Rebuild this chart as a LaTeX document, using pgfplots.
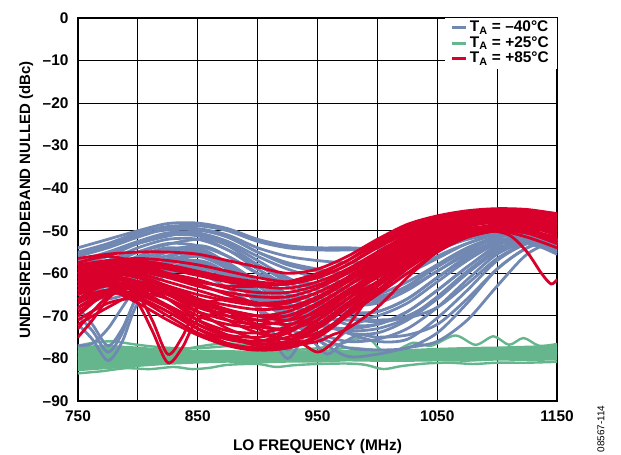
\documentclass[border=0pt]{standalone}
\usepackage{fontspec}
\setmainfont{Liberation Sans}
\usepackage{pgfplots}
\pgfplotsset{compat=1.18}

\definecolor{tblue}{RGB}{112,136,178}
\definecolor{tgreen}{RGB}{102,182,141}
\definecolor{tred}{RGB}{218,0,44}
\newcommand{\lbl}{\fontsize{15.5}{18}\selectfont\bfseries}

\pgfplotsset{
  bl/.style={tblue, line width=2.8bp, smooth, line cap=round, forget plot},
  rd/.style={tred, line width=2.8bp, smooth, line cap=round, forget plot},
  gr/.style={tgreen, line width=2.4bp, smooth, line cap=round, forget plot},
}

\begin{document}
\begin{tikzpicture}
\path[use as bounding box] (-78bp,-54bp) rectangle (543bp,401bp);
\begin{axis}[
  at={(0,0)}, anchor=south west,
  scale only axis, width=479bp, height=383bp,
  xmin=750, xmax=1150, ymin=-90, ymax=0,
  xtick={750,800,...,1150},
  xticklabels={750,,850,,950,,1050,,1150},
  ytick={-90,-80,...,0},
  yticklabels={–90,–80,–70,–60,–50,–40,–30,–20,–10,0},
  major tick length=0pt,
  grid=major,
  grid style={black, line width=1bp},
  axis line style={black, line width=1.6bp},
  tick label style={font=\lbl},
  yticklabel style={xshift=-6bp},
  xticklabel style={yshift=-6bp},
  xlabel={LO FREQUENCY (MHz)},
  ylabel={UNDESIRED SIDEBAND NULLED (dBc)},
  every axis x label/.style={at={(axis description cs:0.5,-0.120)}, anchor=center, font=\lbl},
  every axis y label/.style={at={(axis description cs:-0.108,0.525)}, rotate=90, anchor=center,
    font=\fontsize{15}{18}\selectfont\bfseries},
  legend style={at={(1,1)}, anchor=north east, draw=none, fill=white,
    font=\lbl, inner xsep=6bp, inner ysep=2bp,
    nodes={inner ysep=1.5bp, text height=10bp, text depth=2.5bp}},
  legend cell align=left,
  legend image code/.code={\draw[#1] (0bp,0bp) -- (14bp,0bp);},
]

% ---- T_A = +25 C (green band)
\addplot[draw=none, fill=tgreen, forget plot] coordinates {
(750,-77) (775,-76.8) (800,-77.2) (825,-77.8) (850,-78) (875,-78) (900,-78.3)
(925,-78.2) (950,-78) (975,-78) (1000,-78) (1025,-77.8) (1050,-77.5) (1075,-77.3)
(1100,-77.2) (1125,-77) (1150,-76.8)
(1150,-80.5) (1125,-80.6) (1100,-80.5) (1075,-80.8) (1050,-80.7) (1025,-80.8)
(1000,-80.8) (975,-80.7) (950,-81) (925,-81) (900,-81.2) (875,-81) (850,-81.2)
(825,-81.5) (800,-82) (775,-82.5) (750,-83) (750,-77)};
\addplot[gr] coordinates {(750,-77) (765,-76.2) (780,-76) (800,-76.8) (825,-77.5) (850,-77.6) (870,-77.2) (890,-76.8) (910,-77.6) (925,-78) (950,-77.6) (970,-76.5) (985,-75.3) (995,-75.8) (1003,-78) (1015,-78.2) (1030,-76.3) (1045,-77) (1065,-74.6) (1082,-76.8) (1097,-74.8) (1110,-76.8) (1122,-75.2) (1135,-77) (1150,-76.6)};
\addplot[gr] coordinates {(750,-83.5) (770,-83) (790,-82.3) (810,-82.5) (830,-82) (845,-82.5) (860,-82.2) (875,-81.5) (900,-81.3) (915,-82) (930,-81.6) (950,-81.3) (975,-81.2) (990,-81.5) (1005,-82.5) (1020,-81.8) (1040,-81.2) (1060,-81) (1080,-81.3) (1100,-81) (1125,-81) (1150,-80.8)};
\addplot[gr] coordinates {(750,-80) (775,-79.5) (800,-79.8) (825,-79.5) (850,-80) (875,-79.5) (900,-79.8) (925,-80) (950,-79.5) (975,-79.5) (1000,-79.8) (1025,-79.3) (1050,-79) (1075,-79.2) (1100,-78.8) (1125,-79) (1150,-78.8)};
\addplot[gr] coordinates {(750,-78.5) (800,-78.8) (830,-78.2) (860,-76.8) (880,-76.5) (900,-77.5) (925,-78.2) (950,-78.5) (975,-77.5) (1000,-78) (1050,-78.2) (1100,-78) (1150,-77.5)};

% ---- T_A = -40 C (blue)
\addplot[bl] coordinates {(750,-54) (775,-52) (800,-50) (825,-48.3) (850,-48.2) (875,-49.5) (900,-52) (925,-53.5) (950,-54) (975,-54) (1000,-54.2) (1025,-53.5) (1050,-52) (1075,-50.5) (1100,-50) (1125,-51) (1150,-53)};
\addplot[bl] coordinates {(750,-55) (775,-53) (800,-50.5) (825,-49) (850,-48.8) (875,-50) (900,-52.5) (925,-54) (950,-54.5) (975,-54.5) (1000,-54) (1025,-52.5) (1050,-51) (1075,-50.2) (1100,-50.3) (1125,-51.5) (1150,-54)};
\addplot[bl] coordinates {(750,-55.5) (775,-53.5) (800,-51) (825,-49.8) (850,-49.8) (875,-51.5) (900,-55) (925,-57.5) (950,-59) (975,-60) (1000,-59) (1025,-56.5) (1050,-53.5) (1075,-51.5) (1100,-50.7) (1125,-52) (1150,-54.5)};
\addplot[bl] coordinates {(750,-56) (775,-54) (800,-51.5) (825,-49.5) (850,-49.5) (875,-51) (900,-54) (925,-56) (950,-57) (975,-57.5) (1000,-57) (1025,-55) (1050,-52.5) (1075,-51) (1100,-50.5) (1125,-52) (1150,-55)};
\addplot[bl] coordinates {(750,-57) (775,-55) (800,-52.5) (825,-50.5) (850,-50.5) (875,-52.5) (900,-56) (925,-59) (950,-61) (975,-62) (1000,-61) (1025,-58) (1050,-54.5) (1075,-52) (1100,-51) (1125,-52.5) (1150,-55.5)};
\addplot[bl] coordinates {(750,-57.5) (775,-55.5) (800,-52.8) (825,-51) (850,-51.2) (875,-53.5) (900,-58) (925,-62) (950,-65.5) (975,-67.5) (1000,-67) (1025,-64) (1050,-59.5) (1075,-55.5) (1100,-52.5) (1125,-52.5) (1150,-54.5)};
\addplot[bl] coordinates {(750,-58) (775,-56) (800,-53) (825,-51) (850,-51) (875,-53) (900,-57) (925,-61) (950,-64) (975,-66) (1000,-65) (1025,-62) (1050,-58) (1075,-54.5) (1100,-52) (1125,-52.5) (1150,-55)};
\addplot[bl] coordinates {(750,-59) (775,-57) (800,-54) (825,-52) (850,-52) (875,-54.5) (900,-59) (925,-63) (950,-67) (975,-69) (1000,-69) (1025,-66) (1050,-61) (1075,-56.5) (1100,-53) (1125,-53) (1150,-55)};
\addplot[bl] coordinates {(750,-60) (775,-58) (800,-55) (825,-53) (850,-53.5) (875,-56) (900,-60) (925,-65) (950,-69) (975,-72) (1000,-72) (1025,-69) (1050,-64) (1075,-58.5) (1100,-54) (1125,-53) (1150,-54)};
\addplot[bl] coordinates {(750,-61) (775,-59) (800,-56) (825,-54) (850,-55) (875,-58) (900,-62) (925,-67) (950,-71) (975,-74) (1000,-74) (1025,-71) (1050,-66) (1075,-60) (1100,-55) (1125,-53) (1150,-53)};
\addplot[bl] coordinates {(750,-62) (775,-64) (800,-62) (825,-56.5) (850,-54.5) (875,-57.5) (900,-62) (925,-66) (950,-68) (975,-68) (1000,-66.5) (1025,-63) (1050,-58.5) (1075,-54.5) (1100,-51.5) (1125,-51) (1150,-52.5)};
\addplot[bl] coordinates {(750,-64) (775,-66) (800,-63.5) (825,-58) (850,-56) (875,-59) (900,-64) (925,-69) (950,-72) (975,-73) (1000,-72) (1025,-69) (1050,-64) (1075,-58.5) (1100,-53.5) (1125,-51.5) (1150,-52)};
\addplot[bl] coordinates {(750,-70) (762,-73.5) (775,-78.5) (787,-74) (800,-65) (825,-57.5) (850,-55.5) (875,-58.5) (900,-63) (925,-67) (950,-70) (975,-71) (1000,-70) (1025,-67) (1050,-62) (1075,-57) (1100,-53) (1125,-51.5) (1150,-53)};
\addplot[bl] coordinates {(750,-72) (762,-75.5) (775,-80.5) (787,-76) (800,-67) (825,-60) (850,-58.5) (875,-61) (900,-65.5) (925,-70) (950,-74) (975,-76) (1000,-75.5) (1025,-73) (1050,-68) (1075,-61.5) (1100,-55.5) (1125,-52.5) (1150,-52)};
\addplot[bl] coordinates {(750,-68) (762,-72) (775,-77) (787,-73) (800,-65.5) (825,-59) (850,-57.5) (875,-60) (900,-64.5) (925,-68.5) (950,-72) (975,-73.5) (1000,-73) (1025,-70.5) (1050,-65.5) (1075,-59.5) (1100,-54.5) (1125,-52) (1150,-52.5)};
\addplot[bl] coordinates {(750,-77) (762,-76.5) (775,-73) (787,-68) (800,-63) (825,-58) (850,-57) (875,-60) (900,-64) (925,-67.5) (950,-69) (975,-69.5) (1000,-69) (1025,-66) (1050,-61) (1075,-56) (1100,-52.5) (1125,-51.5) (1150,-53.5)};
\addplot[bl] coordinates {(750,-65) (775,-62) (800,-58) (825,-55) (850,-54.5) (875,-59) (900,-68) (912,-75) (925,-80) (937,-75.5) (950,-70) (975,-67) (1000,-66) (1025,-63.5) (1050,-59.5) (1075,-55) (1100,-51.5) (1125,-51) (1150,-52.5)};
\addplot[bl] coordinates {(750,-63) (775,-60) (800,-57) (825,-54.5) (850,-54) (875,-58) (900,-67) (912,-73.5) (925,-78) (937,-74) (950,-69) (975,-64.5) (1000,-62.5) (1025,-60) (1050,-56.5) (1075,-53) (1100,-51) (1125,-51.5) (1150,-54)};
\addplot[bl] coordinates {(750,-66) (800,-60) (850,-58) (875,-60.5) (900,-64) (925,-69) (945,-75.5) (958,-79) (970,-76.5) (985,-74.5) (1000,-75) (1025,-74.5) (1050,-72) (1075,-66) (1100,-59) (1125,-54) (1150,-52)};
\addplot[bl] coordinates {(750,-64) (800,-58) (850,-56) (875,-59) (900,-66) (925,-70) (945,-74) (958,-77) (970,-74.5) (985,-71.5) (1000,-71) (1025,-70.5) (1050,-68) (1075,-62.5) (1100,-56.5) (1125,-53) (1150,-53)};
\addplot[bl] coordinates {(750,-68) (800,-61) (850,-59) (900,-66) (925,-71) (950,-75.5) (975,-79.5) (1000,-79) (1025,-77.5) (1050,-76) (1075,-71) (1100,-63) (1125,-55.5) (1150,-52)};
\addplot[bl] coordinates {(750,-62) (800,-56.5) (850,-53.5) (875,-56) (900,-60) (925,-62) (950,-62.5) (975,-64.5) (1000,-65.5) (1025,-63) (1050,-58) (1075,-54) (1100,-51.5) (1125,-51) (1150,-53)};
\addplot[bl] coordinates {(750,-63) (800,-57.5) (850,-55) (875,-58) (900,-62) (925,-65) (950,-66.5) (975,-70) (1000,-71.5) (1025,-70) (1050,-66) (1075,-60) (1100,-54.5) (1125,-52) (1150,-52.5)};
\addplot[bl] coordinates {(750,-65) (800,-59) (850,-57) (875,-60) (900,-65) (925,-69) (950,-71) (975,-74) (1000,-76) (1025,-75.5) (1050,-70.5) (1075,-64) (1100,-57) (1125,-53) (1150,-52)};
\addplot[bl] coordinates {(750,-67) (800,-61) (850,-60) (900,-68) (925,-73) (950,-75) (975,-77.5) (1000,-78) (1025,-77.5) (1050,-74) (1075,-67) (1100,-59) (1125,-54) (1150,-51.5)};
\addplot[bl] coordinates {(750,-58) (800,-53) (850,-50) (875,-51.5) (900,-55) (925,-58) (950,-59.5) (975,-60) (1000,-59.5) (1025,-57.5) (1050,-54.5) (1075,-52) (1100,-50.5) (1125,-51) (1150,-53.5)};
\addplot[bl] coordinates {(750,-60) (800,-55) (850,-52) (875,-54.5) (900,-58) (925,-61.5) (950,-63) (975,-63.5) (1000,-62.5) (1025,-60) (1050,-56) (1075,-53) (1100,-51) (1125,-51.5) (1150,-54.5)};

% ---- T_A = +85 C (red)
\addplot[rd] coordinates {(750,-56.5) (775,-55.5) (800,-55) (825,-55) (850,-55.5) (875,-57) (900,-58.5) (925,-60) (950,-59) (975,-56) (1000,-52) (1025,-48.5) (1050,-46.5) (1075,-45.3) (1100,-44.8) (1125,-45) (1150,-46)};
\addplot[rd] coordinates {(750,-58) (775,-57) (800,-56.5) (825,-57) (850,-58) (875,-59.5) (900,-61) (925,-62) (950,-61) (975,-58) (1000,-53.5) (1025,-50) (1050,-47.5) (1075,-46) (1100,-45.5) (1125,-45.5) (1150,-46.5)};
\addplot[rd] coordinates {(750,-58.5) (775,-57) (800,-57) (825,-58) (850,-59.5) (875,-61) (900,-62) (925,-62.5) (950,-61) (975,-58) (1000,-54) (1025,-50.5) (1050,-47.8) (1075,-46.3) (1100,-45.8) (1125,-46) (1150,-47)};
\addplot[rd] coordinates {(750,-59) (775,-58) (800,-58) (825,-59) (850,-60.5) (875,-62) (900,-63) (925,-63.5) (950,-62) (975,-59) (1000,-55) (1025,-51) (1050,-48) (1075,-46.5) (1100,-46) (1125,-46.5) (1150,-47.5)};
\addplot[rd] coordinates {(750,-59.5) (775,-58) (800,-58.5) (825,-60) (850,-61.5) (875,-63.5) (900,-64.5) (925,-64.5) (950,-62.8) (975,-59.5) (1000,-55.5) (1025,-51.5) (1050,-48.5) (1075,-46.8) (1100,-46.2) (1125,-46.8) (1150,-48.2)};
\addplot[rd] coordinates {(750,-60) (775,-59) (800,-59.5) (825,-61) (850,-63) (875,-64.5) (900,-65.5) (925,-65.5) (950,-63.5) (975,-60) (1000,-56) (1025,-52) (1050,-49) (1075,-47.2) (1100,-46.5) (1125,-47) (1150,-48.5)};
\addplot[rd] coordinates {(750,-60.5) (775,-59.5) (800,-60) (825,-62) (850,-64) (875,-66) (900,-67) (925,-66.5) (950,-64.5) (975,-61) (1000,-56.5) (1025,-52.5) (1050,-49.2) (1075,-47.3) (1100,-46.8) (1125,-47.2) (1150,-48.8)};
\addplot[rd] coordinates {(750,-61) (775,-60) (800,-61) (825,-63) (850,-65) (875,-66.5) (900,-67.5) (925,-67) (950,-64.5) (975,-61) (1000,-57) (1025,-53) (1050,-49.5) (1075,-47.5) (1100,-47) (1125,-47.5) (1150,-49.5)};
\addplot[rd] coordinates {(750,-61.5) (775,-60) (800,-61) (825,-63.5) (850,-66) (875,-67.5) (900,-68.5) (925,-68) (950,-65.5) (975,-61.5) (1000,-57.5) (1025,-53.5) (1050,-50) (1075,-48) (1100,-47.2) (1125,-47.8) (1150,-49.8)};
\addplot[rd] coordinates {(750,-62) (775,-60.5) (800,-62) (825,-64.5) (850,-67) (875,-69) (900,-70) (925,-69) (950,-66) (975,-62) (1000,-58) (1025,-54) (1050,-50.5) (1075,-48.5) (1100,-47.5) (1125,-48) (1150,-50)};
\addplot[rd] coordinates {(750,-62.5) (775,-61) (800,-62.5) (825,-65) (850,-68) (875,-70) (900,-71) (925,-70) (950,-67) (975,-63) (1000,-58.5) (1025,-54.5) (1050,-51) (1075,-48.8) (1100,-47.8) (1125,-48.2) (1150,-50.5)};
\addplot[rd] coordinates {(750,-63) (775,-61) (800,-63) (825,-66) (850,-69) (875,-71) (900,-72) (925,-71) (950,-67.5) (975,-63) (1000,-59) (1025,-55) (1050,-51.5) (1075,-49) (1100,-48) (1125,-48.5) (1150,-51)};
\addplot[rd] coordinates {(750,-63.5) (775,-62) (800,-63) (825,-65) (850,-67.5) (875,-70) (900,-72.5) (925,-73) (950,-71) (975,-66) (1000,-60.5) (1025,-55.5) (1050,-51.5) (1075,-48.8) (1100,-47.5) (1125,-48) (1150,-50)};
\addplot[rd] coordinates {(750,-64) (775,-62) (800,-64) (825,-67.5) (850,-71) (875,-73.5) (900,-74) (925,-72.5) (950,-68.5) (975,-64) (1000,-60) (1025,-56) (1050,-52.5) (1075,-50) (1100,-49) (1125,-49.5) (1150,-52)};
\addplot[rd] coordinates {(750,-64.5) (775,-62.5) (800,-64.5) (825,-68) (850,-72) (875,-74.5) (900,-75) (925,-73.5) (950,-69.5) (975,-64.5) (1000,-60.5) (1025,-56.5) (1050,-53) (1075,-50.5) (1100,-49.3) (1125,-49.8) (1150,-52.3)};
\addplot[rd] coordinates {(750,-65) (775,-63) (800,-65.5) (825,-69) (850,-73) (875,-75.5) (900,-76) (925,-74) (950,-70) (975,-65) (1000,-61) (1025,-57) (1050,-53.5) (1075,-51) (1100,-49.5) (1125,-50) (1150,-52.5)};
\addplot[rd] coordinates {(750,-66) (775,-64) (800,-67) (825,-71) (850,-74.5) (875,-77) (900,-78) (925,-76) (950,-71) (975,-66) (1000,-62) (1025,-58) (1050,-54.5) (1075,-51.5) (1100,-50) (1125,-50.5) (1150,-53)};
\addplot[rd] coordinates {(750,-66.5) (775,-64.5) (800,-66) (825,-70) (850,-74) (875,-76.5) (900,-77.5) (925,-76.5) (950,-72.5) (975,-67.5) (1000,-62.5) (1025,-57.8) (1050,-53.8) (1075,-51) (1100,-49.8) (1125,-50.3) (1150,-52.8)};
\addplot[rd] coordinates {(750,-57.5) (775,-56) (800,-57.5) (825,-60) (850,-62) (875,-63) (900,-63) (925,-62) (950,-60) (975,-57) (1000,-53) (1025,-49.5) (1050,-47) (1075,-45.8) (1100,-45.2) (1125,-45.5) (1150,-46.5)};
\addplot[rd] coordinates {(750,-60) (775,-58.5) (800,-59) (825,-60.5) (850,-62.5) (875,-65) (900,-67) (925,-68) (950,-66) (975,-61) (1000,-56) (1025,-51.5) (1050,-48.5) (1075,-46.5) (1100,-46) (1125,-46.5) (1150,-48)};
\addplot[rd] coordinates {(750,-63) (775,-61.5) (800,-62) (825,-64) (850,-66.5) (875,-69) (900,-71) (925,-72) (950,-70) (975,-65) (1000,-59.5) (1025,-54.5) (1050,-50.5) (1075,-48) (1100,-47) (1125,-47.5) (1150,-49)};
\addplot[rd] coordinates {(750,-67) (775,-64) (800,-65) (825,-68) (850,-72) (875,-75) (900,-77) (925,-77.5) (950,-75) (975,-69) (1000,-63) (1025,-57.5) (1050,-53) (1075,-50) (1100,-48.5) (1125,-49) (1150,-51)};
\addplot[rd] coordinates {(750,-68) (775,-65) (800,-63) (825,-65) (850,-69) (875,-73) (900,-75.5) (925,-76.5) (950,-75) (975,-70) (1000,-64.5) (1025,-59) (1050,-54.5) (1075,-51.2) (1100,-49.5) (1125,-50) (1150,-51.8)};
\addplot[rd] coordinates {(750,-72) (775,-68) (800,-64.5) (825,-64) (850,-67) (875,-71) (900,-74) (925,-75.5) (950,-74) (975,-69.5) (1000,-64) (1025,-58.5) (1050,-54) (1075,-51) (1100,-49.5) (1125,-50) (1150,-52)};
\addplot[rd] coordinates {(750,-64) (775,-61) (800,-62) (825,-66) (850,-71) (875,-74.5) (900,-76.5) (925,-76) (950,-73) (975,-68) (1000,-63) (1025,-58) (1050,-53.5) (1075,-50.8) (1100,-49.8) (1125,-50.5) (1150,-52.5)};
\addplot[rd] coordinates {(750,-66) (775,-62.5) (800,-63.5) (825,-68) (850,-73) (875,-76.5) (900,-78) (925,-77.5) (950,-74.5) (975,-70) (1000,-65) (1025,-60) (1050,-55) (1075,-51.5) (1100,-50) (1125,-50.5) (1150,-52)};
\addplot[rd] coordinates {(750,-61) (775,-59.5) (800,-60.5) (825,-63) (850,-66) (875,-68.5) (900,-70) (925,-70) (950,-67.5) (975,-63) (1000,-58) (1025,-53) (1050,-49.5) (1075,-47.5) (1100,-46.8) (1125,-47) (1150,-48)};
\addplot[rd] coordinates {(750,-59) (775,-57.5) (800,-57.5) (825,-58.5) (850,-60) (875,-61.5) (900,-62.5) (925,-62.5) (950,-60.5) (975,-57) (1000,-52.5) (1025,-49) (1050,-46.8) (1075,-45.6) (1100,-45) (1125,-45.2) (1150,-46)};
\addplot[rd] coordinates {(750,-70) (762,-67) (775,-64) (787,-63) (800,-65) (812,-71) (825,-79) (837,-75) (850,-68) (875,-66) (900,-67) (925,-68) (950,-66) (975,-62) (1000,-57) (1025,-52.5) (1050,-49) (1075,-47) (1100,-46.5) (1125,-47) (1150,-48.5)};
\addplot[rd] coordinates {(750,-73) (762,-69) (775,-65.5) (787,-64.5) (800,-67) (812,-73.5) (825,-81) (837,-77.5) (850,-71) (875,-69) (900,-70) (925,-71) (950,-69) (975,-64.5) (1000,-59) (1025,-54) (1050,-50.5) (1075,-48.5) (1100,-47.5) (1125,-48) (1150,-50)};
\addplot[rd] coordinates {(750,-75) (762,-71) (775,-66) (787,-63.5) (800,-64) (825,-68) (850,-72) (875,-75) (900,-76) (925,-75) (950,-72) (975,-67) (1000,-62) (1025,-57) (1050,-53) (1075,-50.5) (1100,-49.5) (1125,-50) (1150,-51.5)};
\addplot[rd] coordinates {(750,-68) (775,-64) (800,-62) (825,-63) (850,-66) (875,-69) (900,-72) (925,-74) (940,-77) (950,-78.5) (960,-77) (975,-72.5) (1000,-63) (1025,-56) (1050,-52) (1075,-50.2) (1090,-49.8) (1110,-51) (1125,-55) (1137,-60) (1145,-62.5) (1150,-61.5)};
\addplot[rd] coordinates {(750,-69) (775,-65) (800,-64.5) (825,-66) (850,-70) (875,-72) (900,-73) (915,-75.5) (925,-77) (935,-75) (950,-71) (975,-66) (1000,-60) (1025,-55) (1050,-51.5) (1075,-49.5) (1100,-49) (1125,-50.5) (1150,-53)};
\addplot[rd] coordinates {(750,-71) (775,-67) (800,-66) (825,-69) (850,-73) (875,-75.5) (900,-76.5) (925,-77) (950,-76) (962,-74.5) (975,-73) (1000,-68) (1025,-61) (1050,-55) (1075,-51.5) (1100,-50) (1125,-51.5) (1150,-54)};

\addlegendimage{tblue, line width=3bp}
\addlegendentry{T\textsubscript{A} = –40°C}
\addlegendimage{tgreen, line width=3bp}
\addlegendentry{T\textsubscript{A} = +25°C}
\addlegendimage{tred, line width=3bp}
\addlegendentry{T\textsubscript{A} = +85°C}
\end{axis}
\node[rotate=90, font=\fontsize{10}{12}\selectfont] at (523bp,-28bp) {08567-114};
\end{tikzpicture}
\end{document}
